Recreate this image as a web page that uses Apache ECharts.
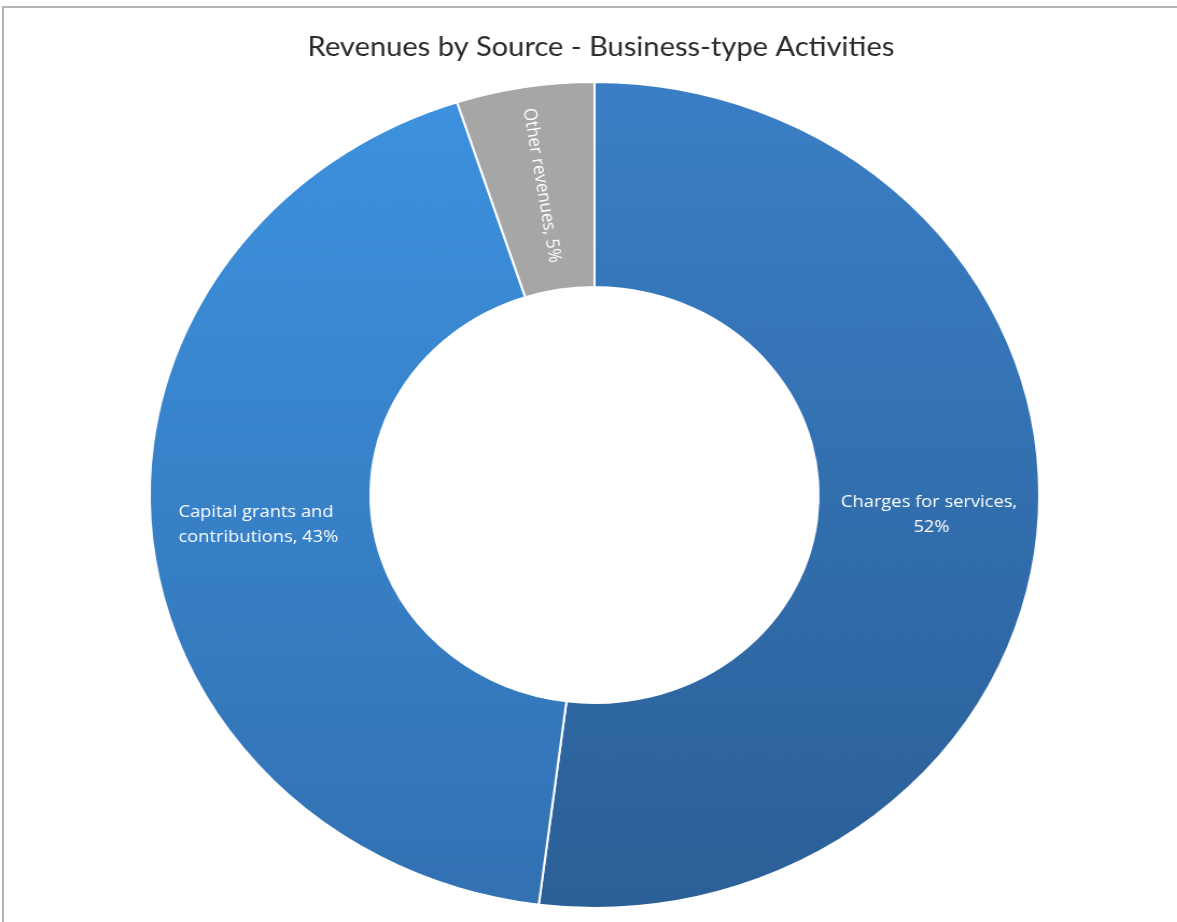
<!DOCTYPE html>
<html>
<head>
<meta charset="utf-8">
<script src="https://cdn.jsdelivr.net/npm/echarts@6/dist/echarts.min.js"></script>
<style>
  body { margin: 0; background: #fff; }
  .frame {
    position: absolute; left: 2px; top: 6px; width: 1175px; height: 916px;
    border-top: 2px solid #b4b4b4; border-left: 2px solid #b4b4b4;
  }
  /* the source picture is a little wider than tall, so stretch the chart */
  .chart {
    position: absolute; left: 0; top: 0; width: 1093px; height: 922px;
    transform: scaleX(1.077); transform-origin: 0 0;
  }
</style>
</head>
<body>
<div class="frame"></div>
<div class="chart"></div>
<script>
var categories = ['Charges for services', 'Capital grants and contributions', 'Other revenues'];
var values = [52, 43, 5];

(function(){
	var myChart = echarts.init(document.querySelector('.chart'));
	var fills = [
		new echarts.graphic.LinearGradient(0, 0, 0, 1, [
			{ offset: 0, color: '#3a7fc6' },
			{ offset: 1, color: '#2b5f97' }
		]),
		new echarts.graphic.LinearGradient(0, 0, 0, 1, [
			{ offset: 0, color: '#3d91de' },
			{ offset: 1, color: '#3271b2' }
		]),
		'#a6a6a6'
	];
	var option = {
		title: {
			text: 'Revenues by Source - Business-type Activities',
			left: 553,
			top: 29,
			textAlign: 'center',
			textStyle: {
				fontFamily: 'Lato',
				fontWeight: 'normal',
				fontSize: 27,
				color: '#2a2a2a'
			}
		},
		series: [
			{
				type: 'pie',
				center: [552, 495],
				radius: [208, 413],
				startAngle: 90,
				clockwise: true,
				avoidLabelOverlap: false,
				itemStyle: {
					borderColor: '#ffffff',
					borderWidth: 2
				},
				label: {
					show: true,
					position: 'inside',
					formatter: '{b}, {c}%',
					color: '#ffffff',
					fontFamily: 'Open Sans',
					fontSize: 17,
					lineHeight: 25,
					align: 'center',
					width: 185,
					overflow: 'break'
				},
				labelLine: { show: false },
				data: categories.map(function (name, i) {
					var item = { name: name, value: values[i], itemStyle: { color: fills[i] } };
					if (i === 2) {
						item.label = { rotate: -81, width: 240, fontSize: 17 };
					}
					return item;
				})
			}
		]
	};
	myChart.setOption(option);
	window.addEventListener("resize", function() {
		myChart.resize();
	});
})();
</script>
</body>
</html>
